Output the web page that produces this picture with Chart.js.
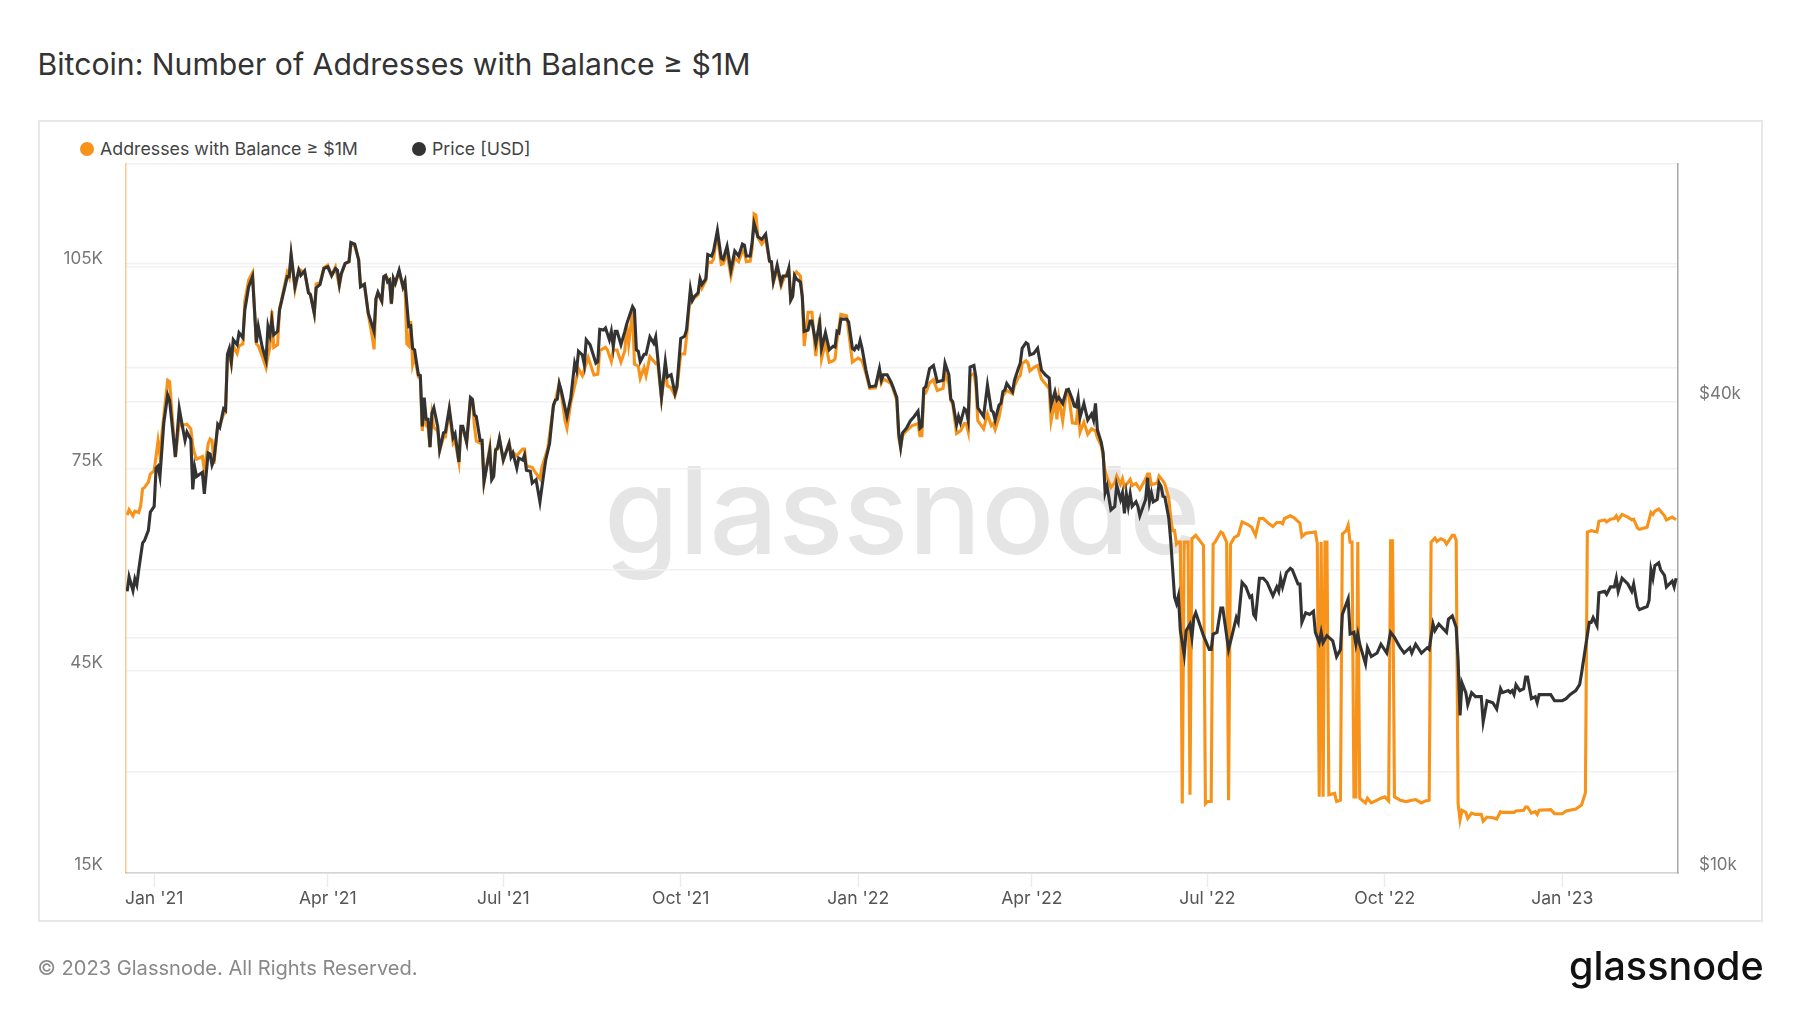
<!DOCTYPE html>
<html>
<head>
<meta charset="utf-8">
<title>Bitcoin: Number of Addresses with Balance ≥ $1M</title>
<script src="https://cdn.jsdelivr.net/npm/chart.js@4"></script>
<style>
  html, body { margin: 0; padding: 0; background: #fff; }
  body { width: 1800px; height: 1013px; position: relative; overflow: hidden; font-family: Inter, sans-serif; }
  #title { position: absolute; left: 37.5px; top: 46px; font-size: 30.2px; line-height: 36px; font-weight: 400; color: #333; white-space: nowrap; }
  #frame { position: absolute; left: 38px; top: 120px; width: 1721px; height: 798px; border: 2px solid #e8e8e8; }
  #watermark { position: absolute; left: 604px; top: 435px; font-size: 121px; line-height: 150px; font-weight: 500; color: #e5e5e5; white-space: nowrap; }
  #legend { position: absolute; left: 80px; top: 137px; font-size: 17.8px; line-height: 24px; color: #444; white-space: nowrap; }
  #legend span { position: absolute; top: 0; }
  #legend i { position: absolute; top: 5px; width: 14px; height: 14px; border-radius: 50%; }
  #footer { position: absolute; left: 37.5px; top: 955px; font-size: 20.1px; line-height: 26px; color: #888; white-space: nowrap; }
  #logo { position: absolute; left: 1569px; top: 941px; font-size: 39.5px; line-height: 50px; font-weight: 500; color: #111; white-space: nowrap; }
  canvas { position: absolute; left: 0; top: 0; }
</style>
</head>
<body>
<div id="title">Bitcoin: Number of Addresses with Balance ≥ $1M</div>
<div id="frame"></div>
<div id="watermark">glassnode</div>
<div id="legend"></div>
<canvas id="chart" width="1800" height="1013"></canvas>
<div id="footer">© 2023 Glassnode. All Rights Reserved.</div>
<div id="logo">glassnode</div>
<script>
// Days are counted from 1 Jan 2021
const addressLabel = 'Addresses with Balance ≥ $1M';
const priceLabel = 'Price [USD]';

const priceDays = [
  -14,-13,-11,-10,-9,-8,-6,-5,-3,-2,
  0,1,2,3,5,7,8,11,13,15,
  16,17,19,20,21,22,25,26,28,29,
  30,31,33,34,36,37,38,39,40,41,
  43,44,46,47,49,51,53,54,56,58,
  59,60,61,62,64,65,69,70,71,73,
  75,76,78,80,81,83,84,86,88,90,
  92,94,95,96,97,99,101,102,104,106,
  107,109,111,114,115,116,118,119,120,121,
  122,123,124,125,127,129,130,132,133,134,
  135,137,138,139,140,141,142,143,144,145,
  147,148,150,151,153,155,156,158,159,160,
  162,164,165,166,167,169,170,171,174,175,
  176,177,178,179,181,184,185,186,188,189,
  191,192,193,195,196,198,200,202,203,205,
  207,208,209,210,211,214,216,218,219,220,
  222,223,224,226,229,230,231,233,234,236,
  237,238,239,240,242,244,245,248,249,250,
  251,252,254,255,257,259,260,261,263,265,
  266,268,270,271,273,275,276,278,279,280,
  282,283,284,286,287,289,290,292,294,295,
  297,299,301,303,305,306,307,309,310,311,
  313,315,317,319,320,321,323,325,326,328,
  329,330,331,332,333,335,336,337,339,340,
  341,343,345,346,348,350,352,353,354,355,
  356,359,360,362,363,364,365,366,367,369,
  371,374,376,377,378,380,382,383,385,386,
  387,388,390,392,394,396,397,398,399,400,
  402,404,406,409,410,412,413,414,416,417,
  418,420,421,422,423,425,426,427,430,432,
  434,435,436,438,439,440,441,442,445,446,
  448,449,450,452,453,454,456,458,460,462,
  464,465,467,468,469,471,473,474,476,477,
  478,479,480,482,484,486,487,488,489,491,
  492,493,494,496,498,499,501,502,503,504,
  505,506,507,509,510,511,514,515,516,517,
  518,520,521,522,523,524,526,527,529,530,
  531,532,534,535,537,538,539,540,544,547,
  548,549,551,553,554,557,559,561,562,564,
  566,568,569,570,571,573,575,577,580,582,
  583,584,585,587,589,590,593,594,595,597,
  599,601,602,604,605,606,608,611,613,615,
  616,619,620,622,623,624,625,628,629,631,
  634,636,639,641,643,646,648,651,652,654,
  657,660,661,663,664,666,670,671,673,675,
  676,677,678,680,681,683,685,688,689,691,
  694,696,698,699,702,703,704,705,706,708,
  710,711,712,714,716,717,718,722,724,726,
  730,732,734,737,739,740,742,744,745,746,
  748,749,752,753,755,757,758,759,761,764,
  766,767,769,770,774,775,776,777,778,780,
  781,783,784,787,788,789
];
const priceValues = [
  22900,23900,22950,23750,23350,24400,26400,26600,27400,28900,
  29400,32900,33100,32100,37600,40800,40200,34000,39200,36800,
  35700,36600,35800,30900,33000,32100,32500,30500,34400,34300,
  33200,33700,37400,37100,39200,39000,46000,46800,45000,48000,
  47300,49000,48300,52400,56100,57800,47600,49900,47000,45200,
  49900,48700,50900,48700,49200,52400,57800,57800,61700,56100,
  58900,58000,58800,55100,54800,51900,55900,56500,59200,59500,
  58000,59200,58900,56500,58300,60100,60400,63900,63600,60700,
  56100,56500,51900,49200,54200,55200,53800,57800,58000,56900,
  57200,53400,57500,56700,58900,56100,57000,49900,50000,46800,
  46600,43300,43200,37200,40500,38000,38000,35000,38700,39300,
  37200,34700,36500,36600,39200,36000,36400,33500,37200,37200,
  35500,40500,40300,38500,38300,35700,35700,31600,34700,31800,
  32100,34700,34900,35900,33700,35400,34000,34400,32900,33900,
  33700,34200,32700,32600,31500,31800,29800,32400,33700,35400,
  39600,40200,40300,42200,41400,38300,40500,44800,43900,46400,
  45900,44600,48000,47300,44800,45000,49500,49400,49700,48000,
  49200,47000,49200,49200,47300,49200,50300,52900,52400,46600,
  46400,45000,46000,46000,48400,47500,48400,45700,40500,45000,
  43000,43300,41000,41800,48200,48500,49400,55700,53900,54500,
  55100,57400,56500,57400,61700,61400,62300,66200,61000,60800,
  63200,58900,62300,61400,63600,63400,61400,61400,63900,67600,
  65000,64500,65500,60500,60400,57000,59800,56700,57900,57900,
  59200,53900,54500,58000,57400,56900,54500,49200,49400,50700,
  50700,47500,50400,46800,49000,46600,47100,47000,49200,49000,
  51000,51000,50600,46800,46600,47100,46800,47900,46800,43900,
  41800,41900,44100,42600,43300,43300,42400,41800,40500,36500,
  35000,36500,37000,37800,38300,38900,37000,37200,41600,41800,
  44100,44500,42400,42600,44800,43300,40300,40000,37400,38300,
  37600,39200,39000,37900,44300,44500,43000,39300,38300,42000,
  39000,38800,37900,39600,39800,41200,41400,42200,41200,42600,
  44100,44800,46800,47600,47400,45900,46100,46800,43900,43300,
  42900,39600,41200,40200,40500,39800,41400,41500,40300,39500,
  39400,40500,38200,39800,37900,38600,37900,39800,36800,35500,
  34400,30600,31200,29100,29400,31300,30000,30600,28800,30500,
  29400,30500,29400,29800,29400,28600,30000,32000,29800,30600,
  29800,30000,31500,31200,30300,30200,28400,26600,22500,22100,
  22600,20400,19000,20400,20800,20000,21200,21500,20100,19300,
  19300,20200,20300,21800,21800,19300,20200,21200,20900,23500,
  23200,22500,22600,21400,21200,23800,23800,23500,22600,23200,
  22900,23800,23200,24200,24500,24400,23400,23400,20900,21500,
  21400,21600,20300,19700,20300,19700,20100,19800,18900,19300,
  21400,22400,20200,20300,19600,20200,19600,18500,19400,18900,
  19100,19600,19100,20300,20000,19400,19100,19400,19100,19600,
  19100,19400,19300,20800,20400,20800,20300,21100,21300,20600,
  18700,15900,17500,17000,16400,17000,16800,16800,15600,16600,
  16500,16200,17200,17000,17100,17000,17100,16900,17400,17100,
  17200,17800,17800,16700,16800,16500,16900,16900,16900,16600,
  16600,16700,16900,17100,17400,18000,19400,20900,20900,21200,
  20700,22800,22900,22700,23200,23200,23800,22900,23800,23400,
  22900,23400,21900,21700,21900,22300,24400,23800,24700,24900,
  24400,24000,23200,23600,23200,23800
];

const addressDays = [
  -14,-13,-11,-10,-8,-7,-6,-5,-3,-2,
  0,2,3,4,7,8,11,13,14,17,
  19,20,21,22,25,26,28,29,30,31,
  33,34,36,37,38,39,40,41,43,44,
  46,47,49,51,53,54,56,58,59,60,
  61,62,64,65,69,70,71,73,75,78,
  80,81,83,84,86,88,90,92,94,96,
  97,99,101,102,104,106,107,109,111,113,
  114,115,116,118,119,120,122,123,124,125,
  127,129,130,131,132,133,134,135,137,138,
  139,140,141,142,143,144,145,147,148,150,
  151,153,155,156,158,159,160,162,164,165,
  166,167,169,170,171,174,175,176,177,178,
  179,181,184,185,188,191,192,193,196,197,
  200,201,204,207,208,210,211,213,214,216,
  219,220,222,225,228,230,231,234,235,237,
  238,240,242,244,245,246,248,249,251,252,
  254,255,257,260,261,263,265,266,268,270,
  271,273,275,276,278,279,280,282,283,284,
  286,287,289,290,291,292,294,295,297,299,
  301,303,305,306,307,309,310,311,312,313,
  315,317,319,320,321,323,325,326,328,329,
  330,331,332,333,335,336,337,339,341,343,
  345,346,348,350,352,353,354,356,359,362,
  363,365,367,369,371,374,376,377,378,380,
  382,383,385,386,387,388,390,393,396,397,
  398,399,400,402,404,406,409,410,412,413,
  414,416,418,420,421,422,423,425,426,427,
  430,432,434,435,436,438,440,442,445,446,
  448,449,450,452,453,454,456,458,460,462,
  464,465,467,468,469,471,473,474,476,478,
  479,480,482,484,486,488,489,491,492,493,
  494,496,498,499,501,502,503,505,506,507,
  509,511,514,515,516,517,519,520,521,523,
  524,526,527,528,529,530,531,532,533,534,
  535,536,537,538,540,544,545,546,548,549,
  550,553,554,556,557,558,560,562,564,567,
  569,571,573,575,578,580,582,584,585,586,
  589,591,594,595,597,602,603,604,605,606,
  607,608,609,612,613,615,616,618,619,620,
  621,622,623,624,625,628,629,631,634,636,
  638,640,641,642,643,646,649,652,654,657,
  659,661,662,664,665,667,669,670,673,674,
  675,676,677,678,680,681,683,685,688,689,
  691,694,696,698,699,705,706,710,711,712,
  714,716,717,718,724,726,730,732,737,740,
  742,743,745,748,749,752,753,755,757,758,
  759,761,764,766,767,769,770,774,776,777,
  778,780,783,784,787,789
];
const addressValues = [
  68100,68900,68000,68700,68500,69500,72000,72200,73000,74200,
  74700,79100,76900,80100,88100,87900,76700,81800,81400,81600,
  80900,78400,77200,76400,76800,74700,78700,79400,79200,75700,
  81600,81400,83100,83300,91500,92000,90500,93200,92100,93200,
  93500,99900,103000,104100,93500,93200,91700,90000,91700,93000,
  98400,93000,93400,98700,104100,103400,106600,101600,104600,104100,
  101200,100900,98000,102400,102600,104800,105200,103600,104900,102100,
  103800,105400,105700,108300,108000,106100,102100,102400,97900,94700,
  92700,100100,101000,99800,103300,103600,102900,99400,103100,102400,
  104300,101900,102600,93500,93200,96900,90500,91700,88600,88300,
  80600,84800,81400,81100,78200,82900,81100,80600,77700,79600,
  79700,83600,78700,79100,75900,80600,80900,78900,85400,85100,
  81400,79100,78800,78700,73000,78200,73700,74100,77900,77900,
  79400,76200,78700,77700,76900,77900,77900,75400,75200,74700,
  73500,75200,77900,84300,85100,87600,86300,82100,81000,84800,
  88500,89800,88800,91500,88900,89000,92500,93000,92600,90900,
  92600,92600,90800,92500,96400,93500,98400,90500,90200,88400,
  90000,88800,91600,90600,90800,85400,90000,87300,87000,85800,
  86900,92000,92000,94500,101100,99900,100300,100800,102900,101800,
  102900,105600,105600,106100,108300,109500,105300,105400,107000,103600,
  106300,105700,107300,107100,105700,105800,107700,112800,112600,109300,
  108300,109100,105800,105500,102600,104600,102100,102900,104000,104600,
  100200,100700,103800,104200,103600,100700,93200,98200,98200,91700,
  97400,91300,93700,90800,91000,91300,94000,97900,97700,90800,
  91000,91400,91000,89100,86900,87000,89600,87700,88300,88000,
  87600,86900,85100,79600,78100,79900,80600,81400,81700,79900,
  79900,86100,86200,87700,88200,86600,86900,89100,87600,85100,
  84600,80200,80600,81700,81700,80500,88800,89100,87300,82100,
  80900,83100,81400,81700,80800,82600,85800,86600,86100,87300,
  88500,88800,90600,91000,90700,89500,90000,90300,88300,87600,
  86900,82100,85100,82300,85500,82100,86600,86400,81800,81700,
  84300,80400,81900,80100,80900,80600,79600,78400,76700,74700,
  73700,72200,72900,73900,72700,73500,72300,73000,73400,72500,
  72800,71900,73500,74200,74200,72600,72800,72800,73900,73200,
  72700,70600,67800,65800,65800,63800,64100,64100,25300,64100,
  64100,64100,26600,64600,65100,63600,25300,25600,25600,63800,
  64100,65600,65400,64100,25800,63800,64800,65100,67100,66700,
  66300,65100,67600,67600,66800,66400,67000,67000,66800,67600,
  68000,67700,66900,64900,65400,65600,63900,26300,64100,26300,
  64100,64100,26600,26800,25600,25800,65300,65800,66600,64100,
  64100,26300,26300,64100,26100,25400,26100,25400,25800,26100,
  26300,25700,64300,64300,26300,25800,25600,25800,25900,25400,
  25700,25800,64100,64700,64200,64600,64300,63800,65100,65100,
  64400,25300,22900,24300,24000,23100,23900,23700,23700,22700,
  23300,23200,23000,24100,24000,24000,24200,24300,24800,24800,
  23900,24100,23700,24300,24400,23800,23800,24200,24500,25100,
  26900,65600,65800,65600,67200,67400,67100,67500,67600,68000,
  67400,68200,67800,67400,67500,66200,66000,66300,68500,68200,
  68700,69000,68000,67400,67800,67400
];

const xTickDays = [0, 90, 181, 273, 365, 455, 546, 638, 730];
const xTickLabels = ["Jan '21", "Apr '21", "Jul '21", "Oct '21", "Jan '22", "Apr '22", "Jul '22", "Oct '22", "Jan '23"];
const leftTicks = [15000, 30000, 45000, 60000, 75000, 90000, 105000];
const leftTickLabels = { 15000: '15K', 45000: '45K', 75000: '75K', 105000: '105K' };
const rightTicks = [10000, 20000, 40000, 60000, 80500];
const rightTickLabels = { 10000: '$10k', 40000: '$40k' };

const orange = '#F7931A';
const dark = '#333333';
const gridColor = '#f1f1f1';

// Legend is plain html so it can sit where glassnode puts it
function addLegendItem(label, color, dotLeft, textLeft) {
  const legend = document.getElementById('legend');
  const dot = document.createElement('i');
  dot.style.left = dotLeft + 'px';
  dot.style.background = color;
  legend.appendChild(dot);
  const text = document.createElement('span');
  text.style.left = textLeft + 'px';
  text.textContent = label;
  legend.appendChild(text);
}
addLegendItem(addressLabel, orange, 0, 20);
addLegendItem(priceLabel, dark, 332, 352);

function toPoints(days, values) {
  return days.map((day, i) => ({ x: day, y: values[i] }));
}

const ctx = document.getElementById('chart').getContext('2d');
const chart = new Chart(ctx, {
  type: 'line',
  data: {
    datasets: [
      {
        label: addressLabel,
        data: toPoints(addressDays, addressValues),
        yAxisID: 'y',
        borderColor: orange,
        borderWidth: 3.1,
        pointRadius: 0,
        tension: 0,
        order: 2
      },
      {
        label: priceLabel,
        data: toPoints(priceDays, priceValues),
        yAxisID: 'y1',
        borderColor: dark,
        borderWidth: 3.1,
        pointRadius: 0,
        tension: 0,
        order: 1
      }
    ]
  },
  options: {
    responsive: false,
    animation: false,
    devicePixelRatio: 1,
    layout: { padding: { left: 0, right: 0, top: 164, bottom: 92 } },
    plugins: {
      legend: { display: false },
      tooltip: { enabled: false }
    },
    scales: {
      x: {
        type: 'linear',
        min: -14.6,
        max: 790,
        afterBuildTicks: (axis) => { axis.ticks = xTickDays.map((value) => ({ value })); },
        afterFit: (axis) => { axis.height = 48; },
        grid: { drawOnChartArea: false, tickLength: 14, tickColor: '#ececec', tickWidth: 1.5 },
        border: { color: '#d4d4d4', width: 1.5 },
        ticks: {
          autoSkip: false,
          maxRotation: 0,
          padding: 1,
          color: '#555',
          font: { family: 'Inter', size: 17.6 },
          callback: (value) => xTickLabels[xTickDays.indexOf(value)]
        }
      },
      y: {
        type: 'linear',
        position: 'left',
        min: 15000,
        max: 120200,
        afterBuildTicks: (axis) => { axis.ticks = leftTicks.map((value) => ({ value })); },
        afterFit: (axis) => { axis.width = 126; },
        grid: { color: gridColor, lineWidth: 1.5, drawTicks: false },
        border: { color: 'rgba(247,147,26,0.5)', width: 1.5 },
        ticks: {
          autoSkip: false,
          padding: 23,
          labelOffset: -8,
          color: '#777',
          font: { family: 'Inter', size: 17 },
          callback: (value) => leftTickLabels[value] || ''
        }
      },
      y1: {
        type: 'logarithmic',
        position: 'right',
        min: 10000,
        max: 80500,
        afterBuildTicks: (axis) => { axis.ticks = rightTicks.map((value) => ({ value })); },
        afterFit: (axis) => { axis.width = 122; },
        grid: { color: gridColor, lineWidth: 1.5, drawTicks: false },
        border: { color: '#a8a8a8', width: 1.5 },
        ticks: {
          autoSkip: false,
          padding: 21,
          labelOffset: -8,
          color: '#777',
          font: { family: 'Inter', size: 17 },
          callback: (value) => rightTickLabels[value] || ''
        }
      }
    }
  }
});
</script>
</body>
</html>
